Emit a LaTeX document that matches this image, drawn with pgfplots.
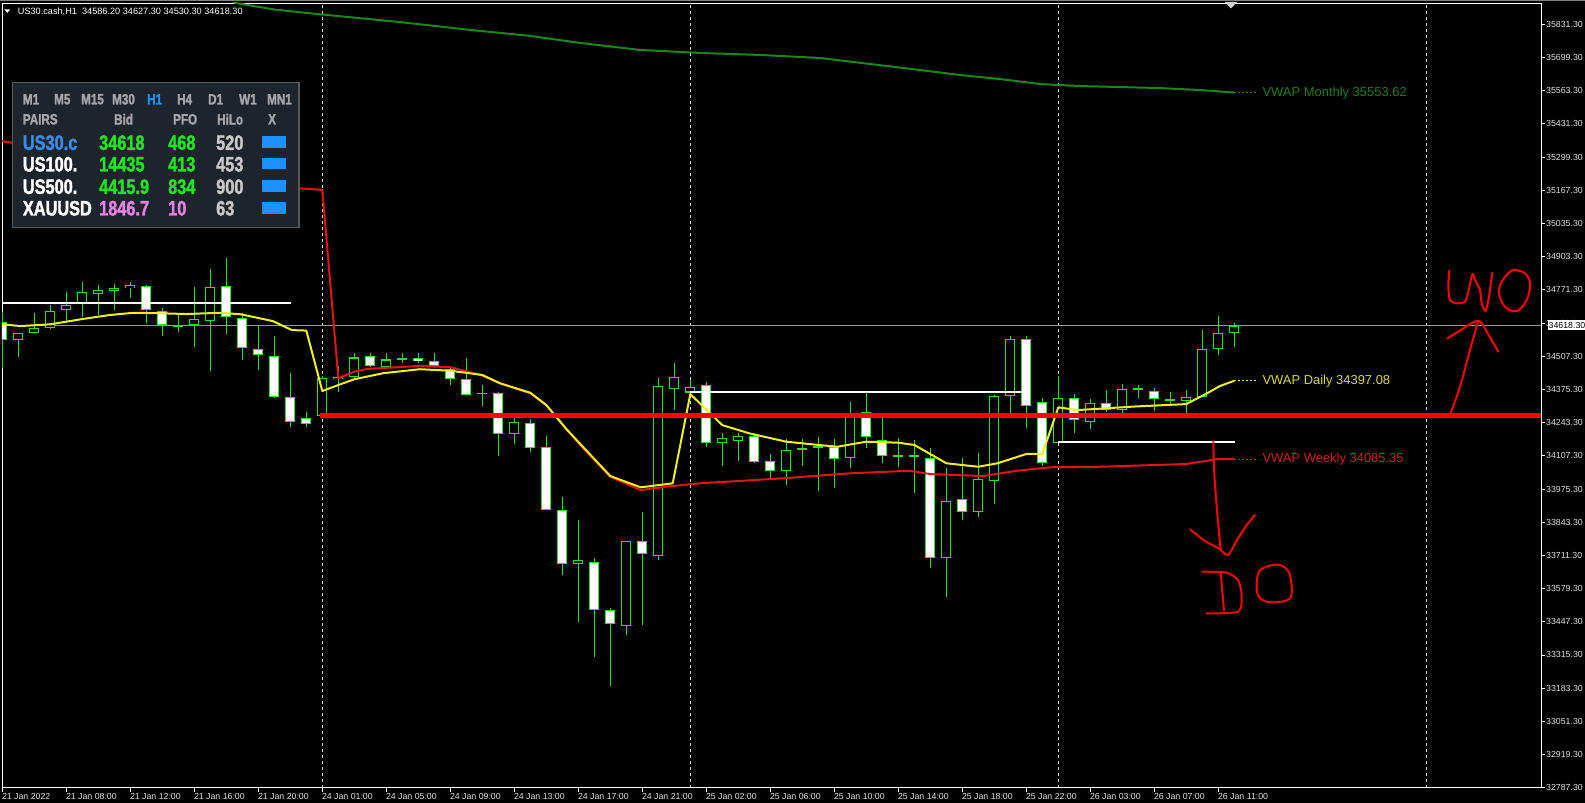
\documentclass[border=0pt]{standalone}
\usepackage{pgfplots}
\pgfplotsset{compat=1.18}
\usepackage{pgfplotstable}
\usepackage{fontspec}
\setmainfont{Liberation Sans}
\newfontfamily\panelfont[FakeStretch=0.78, FakeBold=1.6]{Liberation Sans Bold}
\definecolor{candle}{RGB}{45,220,45}
\definecolor{vwapd}{RGB}{240,240,30}
\definecolor{vwapw}{RGB}{225,20,20}
\definecolor{vwapm}{RGB}{25,135,25}
\definecolor{hline}{RGB}{255,0,0}
\definecolor{lblm}{RGB}{30,125,30}
\definecolor{lbld}{RGB}{215,215,70}
\definecolor{lblw}{RGB}{205,30,30}
\definecolor{panelbg}{RGB}{30,36,44}
\definecolor{panelbd}{RGB}{85,90,98}
\definecolor{pgray}{RGB}{165,165,170}
\definecolor{pblue}{RGB}{30,144,255}
\definecolor{pblue2}{RGB}{58,140,230}
\definecolor{pgreen}{RGB}{30,230,30}
\definecolor{pviolet}{RGB}{230,130,230}
\definecolor{plight}{RGB}{200,200,200}
\definecolor{ticktext}{RGB}{225,225,225}
\definecolor{pricegray}{RGB}{150,150,150}

% bearish candles (white bodies)
\pgfplotstableread{
k O H L C
0 34644 34684 34461 34572
9 34789 34792 34641 34692
10 34689 34699 34590 34632
14 34789 34898 34596 34663
15 34659 34679 34493 34540
16 34535 34628 34453 34512
17 34510 34590 34340 34344
18 34346 34440 34227 34247
19 34263 34287 34224 34236
23 34509 34522 34464 34469
26 34499 34522 34482 34490
27 34490 34519 34464 34469
28 34456 34466 34393 34416
29 34416 34500 34352 34352
31 34360 34366 34110 34196
33 34240 34256 34127 34141
34 34145 34190 33893 33893
35 33893 33945 33635 33678
37 33686 33702 33307 33496
38 33496 33503 33193 33440
40 33771 33888 33436 33718
44 34392 34406 34147 34160
47 34190 34194 34081 34087
48 34091 34118 34014 34051
52 34147 34177 33981 34097
54 34287 34360 34141 34185
55 34174 34260 34083 34110
58 34103 34141 33662 33702
60 33937 34101 33855 33885
64 34575 34588 34220 34310
65 34326 34342 34071 34081
67 34342 34356 34200 34254
69 34322 34373 34287 34293
71 34380 34393 34340 34372
72 34370 34380 34291 34337
73 34336 34366 34313 34328
}\bear

% bullish candles (hollow bodies)
\pgfplotstableread{
k O H L C
1 34572 34600 34506 34599
2 34599 34679 34599 34619
3 34619 34712 34615 34688
4 34692 34763 34648 34712
5 34719 34805 34665 34763
6 34755 34792 34672 34771
7 34769 34796 34692 34779
8 34779 34805 34739 34792
11 34626 34672 34605 34630
12 34631 34783 34546 34655
13 34649 34854 34450 34785
20 34269 34429 34261 34420
21 34416 34469 34365 34426
22 34426 34522 34413 34503
24 34466 34519 34460 34495
25 34495 34522 34480 34500
30 34358 34393 34309 34362
32 34196 34260 34158 34244
36 33678 33855 33449 33695
39 33432 33771 33396 33771
41 33712 34420 33695 34390
42 34376 34479 34295 34427
43 34363 34413 34360 34387
45 34163 34203 34071 34181
46 34171 34203 34091 34190
49 34051 34177 33994 34134
50 34135 34177 34070 34139
51 34145 34187 33972 34149
53 34101 34327 34061 34283
56 34108 34180 34067 34112
57 34108 34174 33964 34112
59 33702 34061 33549 33932
61 33888 34123 33866 34017
62 34011 34353 33918 34350
63 34350 34588 34260 34575
66 34163 34429 34163 34342
68 34247 34337 34216 34320
70 34293 34397 34280 34376
74 34330 34373 34273 34344
75 34346 34612 34346 34535
76 34535 34668 34513 34599
77 34599 34639 34543 34628
}\bull

\pgfplotsset{
  nomark/.style={only marks, mark=none, mark size=0pt, mark options={draw=none, fill=none}, forget plot},
  wick/.style={nomark,
    error bars/.cd, y dir=both, y explicit, error mark=none,
    error bar style={line width=1bp, candle}},
  body/.style={nomark,
    error bars/.cd, y dir=both, y explicit, error mark=none,
    error bar style={line width=10bp, candle}},
  inner/.style={nomark,
    error bars/.cd, y dir=both, y explicit, error mark=none,
    error bar style={line width=8bp, #1}},
}

\begin{document}
\begin{tikzpicture}
\fill[black] (0,0) rectangle (1585bp,803bp);
\path[use as bounding box] (0,0) rectangle (1585bp,803bp);

\begin{axis}[
  at={(2bp,15.2bp)}, anchor=south west, scale only axis,
  width=1539bp, height=784.8bp,
  xmin=-0.02, xmax=96.17, ymin=32787, ymax=35916.2,
  scaled x ticks=false, scaled y ticks=false,
  axis line style={white, line width=0.8bp},
  tick style={white, line width=0.8bp},
  tick align=outside, major tick length=4bp,
  xtick pos=bottom, ytick pos=right, yticklabel pos=right,
  xtick={0,4,...,76},
  xticklabels={21 Jan 2022, 21 Jan 08:00, 21 Jan 12:00, 21 Jan 16:00, 21 Jan 20:00, 24 Jan 01:00, 24 Jan 05:00, 24 Jan 09:00, 24 Jan 13:00, 24 Jan 17:00, 24 Jan 21:00, 25 Jan 02:00, 25 Jan 06:00, 25 Jan 10:00, 25 Jan 14:00, 25 Jan 18:00, 25 Jan 22:00, 26 Jan 03:00, 26 Jan 07:00, 26 Jan 11:00},
  ytick={35831.30,35698.95,35566.60,35434.25,35301.90,35169.55,35037.20,34904.85,34772.50,34640.15,34507.80,34375.45,34243.10,34110.75,33978.40,33846.05,33713.70,33581.35,33449.00,33316.65,33184.30,33051.95,32919.60,32787.25},
  yticklabels={35831.30,35699.30,35563.30,35431.30,35299.30,35167.30,35035.30,34903.30,34771.30,34639.30,34507.30,34375.30,34243.30,34107.30,33975.30,33843.30,33711.30,33579.30,33447.30,33315.30,33183.30,33051.30,32919.30,32787.30},
  xticklabel style={anchor=north west, inner sep=0pt, text=ticktext, font=\fontsize{8.8}{10}\selectfont, xshift=-0.5bp, yshift=-1bp},
  yticklabel style={anchor=west, inner sep=0pt, text=ticktext, font=\fontsize{8.8}{10}\selectfont, xshift=1bp},
  clip=true,
]
% day separators
\addplot[white!85!black, line width=1bp, dash pattern=on 3bp off 3bp] coordinates {(20,32787) (20,35916.2)};
\addplot[white!85!black, line width=1bp, dash pattern=on 3bp off 3bp] coordinates {(43,32787) (43,35916.2)};
\addplot[white!85!black, line width=1bp, dash pattern=on 3bp off 3bp] coordinates {(66,32787) (66,35916.2)};
\addplot[white!85!black, line width=1bp, dash pattern=on 3bp off 3bp] coordinates {(89,32787) (89,35916.2)};
% current price line
\addplot[pricegray, line width=1bp] coordinates {(-0.02,34630) (96.17,34630)};

% candles
\addplot[wick] table[x=k, y expr={(\thisrow{H}+\thisrow{L})/2}, y error expr={(\thisrow{H}-\thisrow{L})/2}] {\bear};
\addplot[wick] table[x=k, y expr={(\thisrow{H}+\thisrow{L})/2}, y error expr={(\thisrow{H}-\thisrow{L})/2}] {\bull};
\addplot[body] table[x=k, y expr={(\thisrow{O}+\thisrow{C})/2}, y error expr={max(abs(\thisrow{C}-\thisrow{O})/2,3)}] {\bear};
\addplot[body] table[x=k, y expr={(\thisrow{O}+\thisrow{C})/2}, y error expr={max(abs(\thisrow{C}-\thisrow{O})/2,3)}] {\bull};
\addplot[inner=white] table[x=k, y expr={(\thisrow{O}+\thisrow{C})/2}, y error expr={max(abs(\thisrow{C}-\thisrow{O})/2-4.2,0)}] {\bear};
\addplot[inner=black] table[x=k, y expr={(\thisrow{O}+\thisrow{C})/2}, y error expr={max(abs(\thisrow{C}-\thisrow{O})/2-4.2,0)}] {\bull};

% VWAP monthly
\addplot[vwapm, line width=2bp, line join=round] coordinates {
(13.5,35950) (14.6,35916) (17,35890) (19.73,35872) (24.86,35840) (29.23,35809) (32.98,35785) (36.11,35757) (39.86,35729) (43.61,35717) (47.36,35709) (51.11,35697) (54.23,35673) (57.36,35649) (59.86,35629) (62.36,35613) (64.86,35593) (67.36,35585) (69.86,35581) (72.36,35577) (74.86,35569) (77,35559)};
% VWAP weekly
\addplot[vwapw, line width=2bp, line join=round] coordinates {
(-0.1,35366) (18.6,35177) (20.0,35171) (21.0,34420) (22,34446) (22.8,34457) (26.1,34469) (28,34464) (29.9,34433) (31.1,34400) (33,34360) (34,34313) (35.3,34214) (36.3,34141) (38,34027) (39.9,33974) (41.5,33988) (43.6,34001) (48.8,34021) (53,34041) (56.7,34051) (58,34038) (61.3,34030) (63.4,34051) (65.5,34065) (68.6,34067) (74,34078) (75.9,34097) (77,34097)};
% VWAP daily
\addplot[vwapd, line width=2bp, line join=round] coordinates {
(-0.1,34636) (1.1,34628) (3,34635) (5,34656) (6.7,34672) (8.2,34681) (9.9,34679) (11.5,34676) (13.6,34681) (14.9,34675) (16.9,34648) (18.1,34612) (19,34610) (20,34369) (21,34393) (22,34416) (23.8,34440) (26.1,34456) (28,34450) (30,34433) (31.1,34400) (33,34362) (34,34313) (35.3,34214) (38,34030) (39.9,33985) (41.9,34001) (43,34357) (43.8,34307) (45,34233) (46.7,34200) (49,34167) (51,34154) (52.2,34147) (54,34167) (56,34163) (57,34154) (59,34081) (61,34067) (62.2,34081) (64,34118) (65,34118) (66,34304) (67.2,34293) (70.7,34307) (74,34317) (75.3,34360) (76.1,34389) (77,34410)};
% dotted extensions to labels
\addplot[vwapm, line width=1bp, dash pattern=on 2bp off 2bp] coordinates {(77,35559) (78.5,35559)};
\addplot[vwapd, line width=1bp, dash pattern=on 2bp off 2bp] coordinates {(77,34410) (78.5,34410)};
\addplot[vwapw, line width=1bp, dash pattern=on 2bp off 2bp] coordinates {(77,34097) (78.5,34097)};
\node[anchor=west, inner sep=0pt, text=lblm, font=\fontsize{13}{14}\selectfont] at (axis cs:78.75,35558) {VWAP Monthly 35553.62};
\node[anchor=west, inner sep=0pt, text=lbld, font=\fontsize{13}{14}\selectfont] at (axis cs:78.75,34410) {VWAP Daily 34397.08};
\node[anchor=west, inner sep=0pt, text=lblw, font=\fontsize{13}{14}\selectfont] at (axis cs:78.75,34097) {VWAP Weekly 34085.35};

% horizontal objects
\addplot[white, line width=2bp] coordinates {(-0.02,34719) (18.03,34719)};
\addplot[white, line width=2bp] coordinates {(42.98,34366) (63.71,34366)};
\addplot[white, line width=2bp] coordinates {(66.0,34167) (77.04,34167)};
\addplot[hline, line width=5bp] coordinates {(19.85,34270) (96.17,34270)};
\end{axis}

\begin{scope}[x=1bp,y=-1bp,shift={(0bp,803bp)}]
% top window line & marker
\draw[gray, line width=0.8bp] (0,0.6) -- (1585,0.6);
\fill[white!65!gray] (1225,2) -- (1237,2) -- (1231,8.5) -- cycle;
% header
\fill[white] (4.5,9.5) -- (10,9.5) -- (7.25,13) -- cycle;
\node[anchor=west, inner sep=0pt, text=white, font=\fontsize{9.2}{10}\selectfont] at (17.7,11.7) {US30.cash,H1\ \ 34586.20 34627.30 34530.30 34618.30};
% current price box
\fill[white] (1548,320.5) rectangle (1585,330.5);
\node[anchor=west, inner sep=0pt, text=black, font=\fontsize{8.8}{10}\selectfont] at (1548.5,325.5) {34618.30};

% info panel
\fill[panelbg, draw=panelbd, line width=1.3bp] (12.5,82.7) rectangle (299,227.5);
\tikzset{pt/.style={anchor=west, inner sep=0pt, font=\panelfont\fontsize{15}{15}\selectfont},
         pb/.style={anchor=west, inner sep=0pt, font=\panelfont\fontsize{21}{21}\selectfont}}
\node[pt, text=pgray] at (22.7,99.3) {M1};
\node[pt, text=pgray] at (54,99.3) {M5};
\node[pt, text=pgray] at (81,99.3) {M15};
\node[pt, text=pgray] at (112,99.3) {M30};
\node[pt, text=pblue] at (147,99.3) {H1};
\node[pt, text=pgray] at (177,99.3) {H4};
\node[pt, text=pgray] at (208,99.3) {D1};
\node[pt, text=pgray] at (239,99.3) {W1};
\node[pt, text=pgray] at (267,99.3) {MN1};
\node[pt, text=pgray] at (22.7,119.3) {PAIRS};
\node[pt, text=pgray] at (114,119.3) {Bid};
\node[pt, text=pgray] at (173,119.3) {PFO};
\node[pt, text=pgray] at (217,119.3) {HiLo};
\node[pt, text=pgray] at (268,119.3) {X};
\node[pb, text=pblue2] at (22.7,142.7) {US30.c};
\node[pb, text=pgreen] at (99,142.7) {34618};
\node[pb, text=pgreen] at (168,142.7) {468};
\node[pb, text=plight] at (216,142.7) {520};
\fill[pblue] (262,136) rectangle (286,147.7);
\node[pb, text=white] at (22.7,164.3) {US100.};
\node[pb, text=pgreen] at (99,164.3) {14435};
\node[pb, text=pgreen] at (168,164.3) {413};
\node[pb, text=plight] at (216,164.3) {453};
\fill[pblue] (262,158.3) rectangle (286,169.3);
\node[pb, text=white] at (22.7,186.7) {US500.};
\node[pb, text=pgreen] at (99,186.7) {4415.9};
\node[pb, text=pgreen] at (168,186.7) {834};
\node[pb, text=plight] at (216,186.7) {900};
\fill[pblue] (262,180.3) rectangle (286,192);
\node[pb, text=white] at (22.7,208.3) {XAUUSD};
\node[pb, text=pviolet] at (99,208.3) {1846.7};
\node[pb, text=pviolet] at (168,208.3) {10};
\node[pb, text=plight] at (216,208.3) {63};
\fill[pblue] (262,202) rectangle (286,213.7);

% hand-drawn annotations
\begin{scope}[hline, line width=2bp, line cap=round, line join=round]
\draw plot[smooth, tension=0.4] coordinates {(1449.3,270.7) (1448.3,286.7) (1450,300) (1456.7,303.3) (1465,301.7) (1468.3,291.7) (1472.3,274) (1475,280) (1480,290) (1481.7,303.3) (1485.7,311) (1489,296.7) (1492.3,272.7)};
\draw plot[smooth cycle, tension=0.6] coordinates {(1515,270) (1525,273.3) (1530,283.3) (1526.7,300) (1516.7,311) (1505,306.7) (1499,293.3) (1501.7,281.7) (1510,271.7)};
\draw plot[smooth, tension=0.5] coordinates {(1450,415) (1460,386.7) (1470,350) (1478.3,320.7)};
\draw plot[smooth, tension=0.5] coordinates {(1447.7,338.3) (1458.3,331.7) (1478.3,320.7) (1488,334) (1498.3,351.7)};
\draw plot[smooth, tension=0.5] coordinates {(1213.3,441.7) (1214.3,473.3) (1216.7,506.7) (1220,543.3) (1221,550)};
\draw plot[smooth, tension=0.4] coordinates {(1190,529.3) (1205,541) (1218,548) (1228,555) (1237,540) (1246,526) (1255,515)};
\draw plot[smooth, tension=0.4] coordinates {(1202.3,571.7) (1226.7,572.7) (1238,580) (1241.7,595) (1238.3,611.7) (1206.7,613.3)};
\draw (1220.7,572.7) -- (1224,610.7);
\draw plot[smooth cycle, tension=0.6] coordinates {(1266.7,566.7) (1280,565) (1289.3,573.3) (1291.7,593.3) (1286,600.7) (1266.7,601.7) (1257.3,593.3) (1258.3,573.3)};
\end{scope}
\end{scope}
\end{tikzpicture}
\end{document}
